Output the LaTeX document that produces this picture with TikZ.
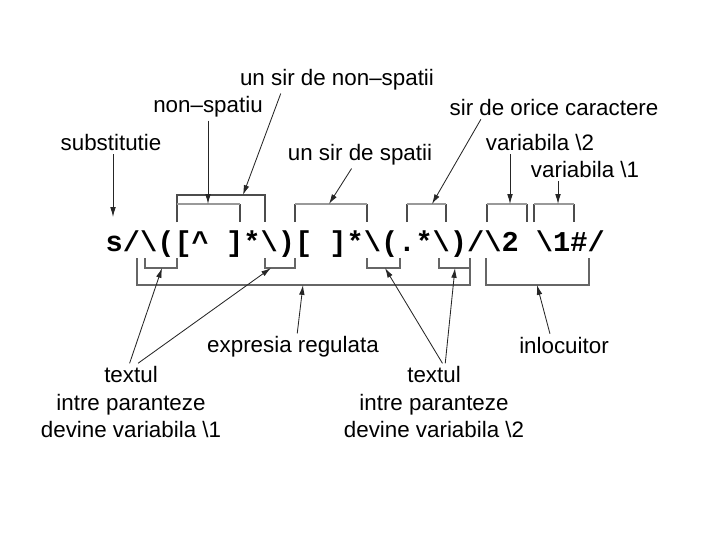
\documentclass[tikz,border=0pt]{standalone}
\usepackage{fontspec}
\setmainfont{Liberation Sans}
\setmonofont{Liberation Mono}
\usetikzlibrary{arrows.meta}

\begin{document}
\begin{tikzpicture}[x=0.025cm,y=-0.025cm]
\tikzset{every node/.style={font=\fontsize{15.9}{19.5}\selectfont}}
\tikzset{lbl/.style={inner sep=2pt}}
\tikzset{arr/.style={draw=black!85,line width=0.6pt,-{Latex[length=7pt,width=4pt]}}}
\tikzset{brtop/.style={draw=black!40,line width=2pt}}
\tikzset{brside/.style={draw=black!70,line width=1pt}}
\tikzset{brlow/.style={draw=black!60,line width=1.3pt}}
\useasboundingbox (0,0) rectangle (720,540);

% the sed command
\node[anchor=base west,inner sep=0,font=\fontsize{20.4}{24}\selectfont\ttfamily\bfseries] (cmd) at (105.4,251)
  {s/\textbackslash([\char`\^\phantom{x}]*\textbackslash)[\phantom{x}]*\textbackslash(.*\textbackslash)/\textbackslash2\phantom{x}\textbackslash1\#/};

% brackets above
\draw[brside] (177,222) -- (177,195) -- (265,195) -- (265,222);
\foreach \l/\r in {177/240, 295/367, 407/446, 487/527, 534/574}
  {\draw[brside] (\l,222) -- (\l,204) (\r,204) -- (\r,222);
   \draw[brtop] (\l,204) -- (\r,204);}

% brackets below
\foreach \l/\r in {145/177, 265/295, 367/400, 439/470}
  \draw[brlow] (\l,258) -- (\l,268) -- (\r,268) -- (\r,258);
\draw[brlow] (137,258) -- (137,285) -- (470,285) -- (470,258);
\draw[brlow] (486,258) -- (486,285) -- (589,285) -- (589,258);

% arrow ends
\coordinate (subst-end) at (113,217);
\coordinate (nonsp-end) at (208,204);
\coordinate (nonsps-end) at (243,195);
\coordinate (spatii-end) at (329,204);
\coordinate (orice-end) at (432,204);
\coordinate (var2-end) at (510,204);
\coordinate (var1-end) at (558,204);
\coordinate (expr-end) at (303,285);
\coordinate (inloc-end) at (537,285);
\coordinate (par1a-end) at (162,268);
\coordinate (par1b-end) at (271,268);
\coordinate (par2a-end) at (385,268);
\coordinate (par2b-end) at (455,268);

% labels
\node[lbl] (subst) at (111,143) {substitutie};
\node[lbl] (nonsp) at (208,107) {non\textendash spatiu};
\node[lbl] (nonsps) at (337,80) {un sir de non\textendash spatii};
\node[lbl] (spatii) at (360,155) {un sir de spatii};
\node[lbl] (orice) at (554,108) {sir de orice caractere};
\node[lbl] (var2) at (540,143) {variabila \textbackslash 2};
\node[lbl] (var1) at (585,170) {variabila \textbackslash 1};
\node[lbl] (expr) at (293,347) {expresia regulata};
\node[lbl] (inloc) at (564,345) {inlocuitor};
\node[lbl,align=center] (text1) at (131,402) {textul\\intre paranteze\\devine variabila \textbackslash 1};
\node[lbl,align=center] (text2) at (434,402) {textul\\intre paranteze\\devine variabila \textbackslash 2};

% arrows
\draw[arr] (subst.south -| subst-end) -- (subst-end);
\draw[arr] (nonsp.south) -- (nonsp-end);
\draw[arr] ([xshift=-40pt]nonsps.south) -- (nonsps-end);
\draw[arr] ([xshift=-6pt]spatii.south) -- (spatii-end);
\draw[arr] ([xshift=-52pt]orice.south) -- (orice-end);
\draw[arr] (var2.south -| var2-end) -- (var2-end);
\draw[arr] (var1.south -| var1-end) -- (var1-end);
\draw[arr] ([xshift=3pt]expr.north) -- (expr-end);
\draw[arr] ([xshift=-10pt]inloc.north) -- (inloc-end);
\draw[arr] ([xshift=-1pt]text1.north) -- (par1a-end);
\draw[arr] ([xshift=5pt]text1.north) -- (par1b-end);
\draw[arr] ([xshift=6pt]text2.north) -- (par2a-end);
\draw[arr] ([xshift=8pt]text2.north) -- (par2b-end);
\end{tikzpicture}
\end{document}
